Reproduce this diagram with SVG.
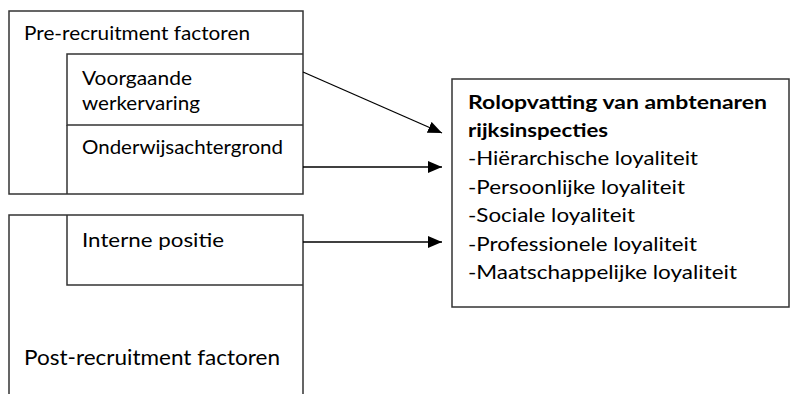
<svg xmlns="http://www.w3.org/2000/svg" width="801" height="394" viewBox="0 0 801 394">
<style>
.box{fill:none;stroke:#333;stroke-width:1.5}
.t{font-family:Lato,"Open Sans","Liberation Sans",sans-serif;font-size:19px;fill:#000}
.b{font-weight:bold}
.c{stroke:#000;stroke-width:1.3;fill:none}
</style>
<defs>
<marker id="ah" markerWidth="14" markerHeight="12" refX="14" refY="6" orient="auto" markerUnits="userSpaceOnUse">
<path d="M0,0 L14,6 L0,12 Z" fill="#000"/>
</marker>
</defs>
<rect width="801" height="394" fill="#fff"/>
<g id="pre">
<rect class="box" x="9" y="11" width="294" height="183"/>
<text class="t" x="24" y="40" textLength="226" lengthAdjust="spacingAndGlyphs">Pre-recruitment factoren</text>
</g>
<g id="voorgaande">
<path class="box" d="M303,54 H67 V125 H303"/>
<text class="t" x="82" y="85" textLength="110" lengthAdjust="spacingAndGlyphs">Voorgaande</text>
<text class="t" x="82" y="110" textLength="118" lengthAdjust="spacingAndGlyphs">werkervaring</text>
</g>
<g id="onderwijs">
<path class="box" d="M67,125 V194"/>
<text class="t" x="82" y="154" textLength="201" lengthAdjust="spacingAndGlyphs">Onderwijsachtergrond</text>
</g>
<g id="post">
<path class="box" d="M9,400 V215 H303 V400"/>
<text class="t" x="24" y="365" style="font-size:22px" textLength="256" lengthAdjust="spacingAndGlyphs">Post-recruitment factoren</text>
</g>
<g id="interne">
<path class="box" d="M67,215 V285 H303"/>
<text class="t" x="82" y="247" textLength="142" lengthAdjust="spacingAndGlyphs">Interne positie</text>
</g>
<g id="rolopvatting">
<rect class="box" x="452" y="79" width="337" height="228"/>
<text class="t b" x="468" y="109" textLength="299" lengthAdjust="spacingAndGlyphs">Rolopvatting van ambtenaren</text>
<text class="t b" x="468" y="137" textLength="140" lengthAdjust="spacingAndGlyphs">rijksinspecties</text>
<text class="t" x="468" y="165" textLength="230" lengthAdjust="spacingAndGlyphs">-Hiërarchische loyaliteit</text>
<text class="t" x="468" y="194" textLength="217" lengthAdjust="spacingAndGlyphs">-Persoonlijke loyaliteit</text>
<text class="t" x="468" y="222" textLength="167" lengthAdjust="spacingAndGlyphs">-Sociale loyaliteit</text>
<text class="t" x="468" y="251" textLength="229" lengthAdjust="spacingAndGlyphs">-Professionele loyaliteit</text>
<text class="t" x="468" y="279" textLength="269" lengthAdjust="spacingAndGlyphs">-Maatschappelijke loyaliteit</text>
</g>
<g id="connectors">
<line class="c" x1="303" y1="72" x2="442" y2="133" marker-end="url(#ah)"/>
<line class="c" x1="303" y1="167" x2="442" y2="167" marker-end="url(#ah)"/>
<line class="c" x1="303" y1="242" x2="442" y2="242" marker-end="url(#ah)"/>
</g>
</svg>
